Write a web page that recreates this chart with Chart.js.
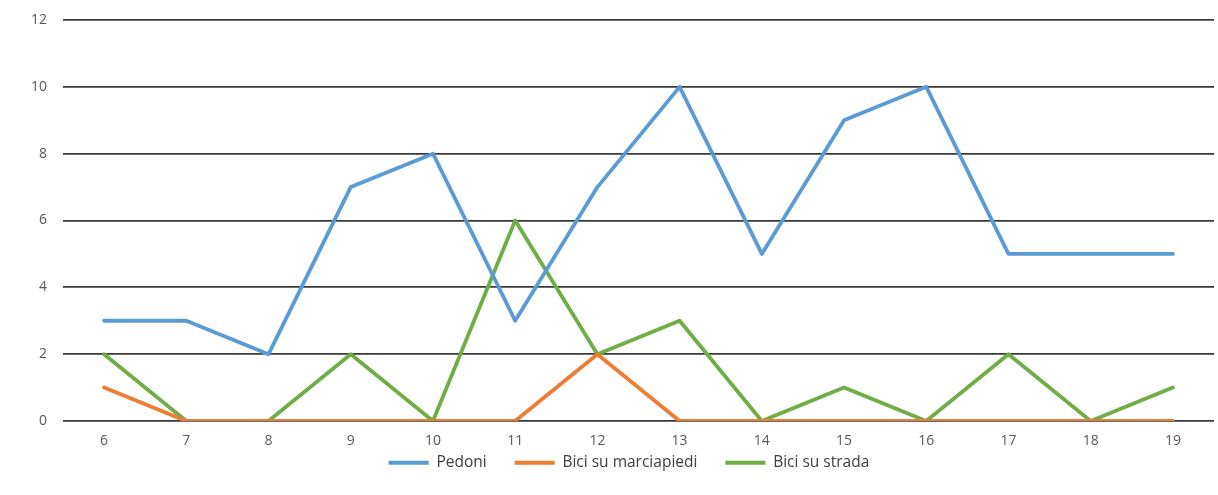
<!DOCTYPE html>
<html>
<head>
<meta charset="utf-8">
<script src="https://cdn.jsdelivr.net/npm/chart.js@4"></script>
<style>
  html, body { margin: 0; padding: 0; background: #ffffff; }
  #wrap { width: 1218px; height: 495px; position: relative; }
</style>
</head>
<body>
<div id="wrap"><canvas id="c" width="1218" height="495"></canvas></div>
<script>
const categories = ['6','7','8','9','10','11','12','13','14','15','16','17','18','19'];
const pedoni = [3, 3, 2, 7, 8, 3, 7, 10, 5, 9, 10, 5, 5, 5];
const biciMarciapiedi = [1, 0, 0, 0, 0, 0, 2, 0, 0, 0, 0, 0, 0, 0];
const biciStrada = [2, 0, 0, 2, 0, 6, 2, 3, 0, 1, 0, 2, 0, 1];
const yTicks = [0, 2, 4, 6, 8, 10, 12];

const seriesNames = ['Pedoni', 'Bici su marciapiedi', 'Bici su strada'];
const colors = ['#5B9BD5', '#ED7D31', '#70AD47'];

function ds(label, data, color) {
  return {
    label: label, data: data,
    borderColor: color, backgroundColor: color,
    borderWidth: 3.8, pointRadius: 0, pointHoverRadius: 0,
    tension: 0, borderJoinStyle: 'round', borderCapStyle: 'round', fill: false
  };
}

// Keeps the legend's layout slot small and places it just under the axis labels.
const legendPlace = {
  id: 'legendPlace',
  afterInit(chart) {
    const lg = chart.legend;
    if (!lg) return;
    const fit = lg.fit.bind(lg);
    lg.fit = function() { fit(); this.height = 20; };
  },
  beforeDraw(chart) {
    const lg = chart.legend;
    if (!lg) return;
    lg.top = 427; lg.bottom = 495;
    const dx = 22;
    if (!lg._shifted) { lg.left += dx; lg.right += dx; lg._shifted = true; }
  }
};

new Chart(document.getElementById('c'), {
  type: 'line',
  data: {
    labels: categories,
    datasets: [
      ds(seriesNames[0], pedoni, colors[0]),
      ds(seriesNames[1], biciMarciapiedi, colors[1]),
      ds(seriesNames[2], biciStrada, colors[2])
    ]
  },
  plugins: [legendPlace],
  options: {
    responsive: false,
    animation: false,
    events: [],
    layout: { padding: { top: 20, right: 4, left: 0, bottom: 20 } },
    plugins: {
      tooltip: { enabled: false },
      legend: {
        position: 'bottom',
        labels: {
          font: { family: 'Open Sans', size: 15.5 },
          color: '#404040',
          boxWidth: 40,
          boxHeight: 4,
          padding: 28,
          generateLabels: function(chart) {
            const items = Chart.defaults.plugins.legend.labels.generateLabels(chart);
            items.forEach(it => { it.lineWidth = 0; it.strokeStyle = 'rgba(0,0,0,0)'; });
            return items;
          }
        }
      }
    },
    scales: {
      x: {
        offset: true,
        grid: { display: false, drawTicks: false },
        border: { display: false },
        ticks: { font: { family: 'Open Sans', size: 14 }, color: '#595959', padding: 12, maxRotation: 0, autoSkip: false },
        afterFit: function(scale) { scale.height = 34; }
      },
      y: {
        min: 0, max: 12,
        afterBuildTicks: function(scale) { scale.ticks = yTicks.map(v => ({ value: v })); },
        grid: { color: '#3a3a3a', lineWidth: 1.7, drawTicks: false },
        border: { display: false },
        ticks: { font: { family: 'Open Sans', size: 14 }, color: '#595959', padding: 16 },
        afterFit: function(scale) { scale.width = 63; scale.paddingTop = 0; scale.paddingBottom = 0; }
      }
    }
  }
});
</script>
</body>
</html>
